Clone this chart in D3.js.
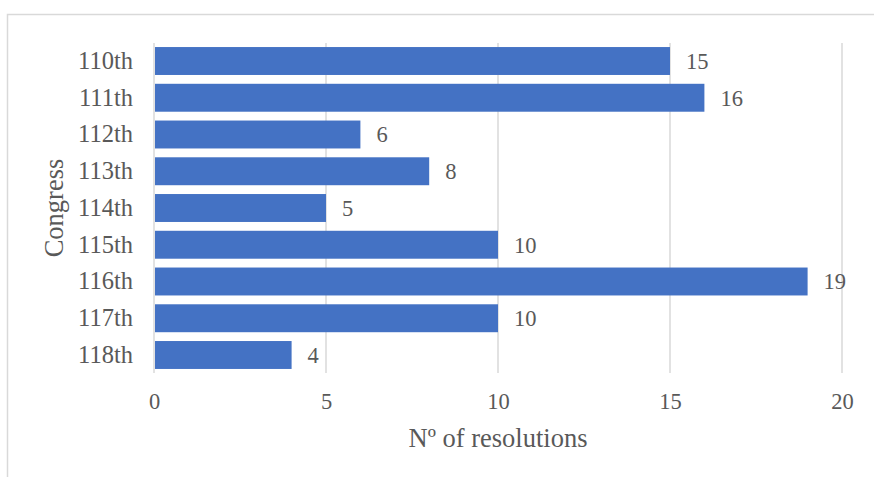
<!DOCTYPE html>
<html>
<head>
<meta charset="utf-8">
<script src="https://cdn.jsdelivr.net/npm/d3@7"></script>
<style>
  html, body { margin: 0; padding: 0; background: #fff; }
  svg { display: block; }
  text { font-family: "Liberation Serif", "Times New Roman", serif; fill: #595959; }
</style>
</head>
<body>
<svg id="chart" width="874" height="477"></svg>
<script>
// Resolutions per Congress
const congresses = ["110th", "111th", "112th", "113th", "114th", "115th", "116th", "117th", "118th"];
const resolutions = [15, 16, 6, 8, 5, 10, 19, 10, 4];
const xTicks = [0, 5, 10, 15, 20];
const xTitle = "Nº of resolutions";
const yTitle = "Congress";

const svg = d3.select("#chart");
const W = 874, H = 477;
const plotLeft = 154, plotRight = 842, plotTop = 43, plotBottom = 373;

// outer chart frame
svg.append("rect")
  .attr("x", 7.5).attr("y", 14.5)
  .attr("width", W + 10).attr("height", H + 10)
  .attr("fill", "#fff")
  .attr("stroke", "#d9d9d9").attr("stroke-width", 1.5);

const x = d3.scaleLinear().domain([0, 20]).range([plotLeft, plotRight]);
const y = d3.scaleBand().domain(congresses).range([plotTop, plotBottom])
  .paddingInner(0.24).paddingOuter(0.11);

// vertical gridlines
svg.append("g").selectAll("line").data(xTicks).join("line")
  .attr("x1", d => x(d)).attr("x2", d => x(d))
  .attr("y1", plotTop).attr("y2", plotBottom)
  .attr("stroke", "#d9d9d9").attr("stroke-width", 1.5);

// bars
const data = congresses.map((c, i) => ({ c, v: resolutions[i] }));
svg.append("g").selectAll("rect").data(data).join("rect")
  .attr("x", x(0) + 1)
  .attr("y", d => y(d.c))
  .attr("width", d => x(d.v) - x(0) - 1)
  .attr("height", y.bandwidth())
  .attr("fill", "#4472c4");

// value labels
svg.append("g").selectAll("text").data(data).join("text")
  .attr("x", d => x(d.v) + 16)
  .attr("y", d => y(d.c) + y.bandwidth() / 2)
  .attr("dy", "0.35em")
  .attr("font-size", 22.5)
  .text(d => d.v);

// x axis tick labels
const xAxis = d3.axisBottom(x).tickValues(xTicks).tickSize(0).tickPadding(20);
const gx = svg.append("g").attr("transform", `translate(0,${plotBottom})`).call(xAxis);
gx.select(".domain").remove();
gx.selectAll("text").attr("font-size", 22.5).attr("fill", "#595959")
  .style("font-family", "Liberation Serif, serif");

// y axis category labels
const yAxis = d3.axisLeft(y).tickSize(0).tickPadding(21);
const gy = svg.append("g").attr("transform", `translate(${plotLeft},0)`).call(yAxis);
gy.select(".domain").remove();
gy.selectAll("text").attr("font-size", 24.5).attr("fill", "#595959")
  .style("font-family", "Liberation Serif, serif");

// axis titles
svg.append("text")
  .attr("x", (plotLeft + plotRight) / 2).attr("y", 447)
  .attr("text-anchor", "middle")
  .attr("font-size", 26.5)
  .text(xTitle);

svg.append("text")
  .attr("transform", `translate(63,${(plotTop + plotBottom) / 2}) rotate(-90)`)
  .attr("text-anchor", "middle")
  .attr("font-size", 26.5)
  .text(yTitle);
</script>
</body>
</html>
